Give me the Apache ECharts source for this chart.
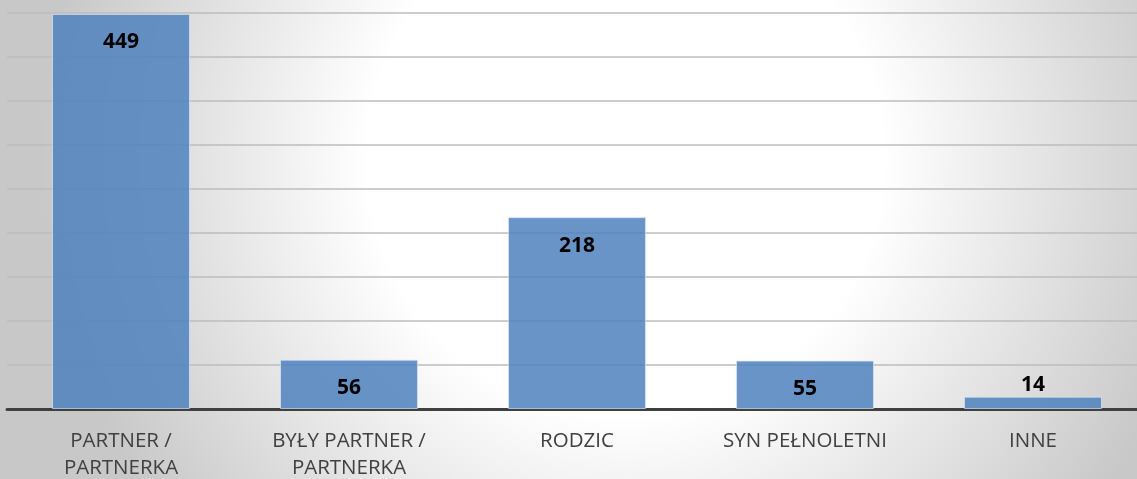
<!DOCTYPE html>
<html><head><meta charset="utf-8">
<script src="https://cdn.jsdelivr.net/npm/echarts@6/dist/echarts.min.js"></script>
<style>html,body{margin:0;padding:0;}#c{width:1137px;height:479px;}</style>
</head><body><div id="c"></div>
<script>
const categories = ['PARTNER /\nPARTNERKA', 'BYŁY PARTNER /\nPARTNERKA', 'RODZIC', 'SYN PEŁNOLETNI', 'INNE'];
const values = [449, 56, 218, 55, 14];
const yMin = 0, yMax = 450, yInterval = 50;

const chart = echarts.init(document.getElementById('c'));
chart.setOption({
  backgroundColor: {
    type: 'radial', x: 0.55, y: 0.33, r: 1.22,
    colorStops: [{offset: 0, color: '#ffffff'}, {offset: 0.44, color: '#ffffff'}, {offset: 1, color: '#c8c8c8'}]
  },
  animation: false,
  grid: {left: 7, right: -10, top: 13, bottom: 70, containLabel: false, outerBoundsMode: 'none'},
  xAxis: {
    type: 'category', data: categories,
    axisTick: {show: false},
    axisLine: {lineStyle: {color: '#404040', width: 3}},
    axisLabel: {color: '#404040', fontFamily: 'Open Sans', fontSize: 20.5, margin: 19, lineHeight: 27, interval: 0}
  },
  yAxis: {
    type: 'value', min: yMin, max: yMax, interval: yInterval,
    axisLabel: {show: false}, axisLine: {show: false}, axisTick: {show: false},
    splitLine: {lineStyle: {color: '#bcbcbc', width: 1.5}}
  },
  series: [{
    type: 'bar', barCategoryGap: '39.5%',
    data: values.map(v => v < 30 ? {value: v, label: {position: 'top', distance: 1}} : v),
    itemStyle: {color: 'rgba(79,129,189,0.85)', borderColor: 'rgba(220,230,245,0.7)', borderWidth: 1},
    label: {show: true, position: 'insideTop', distance: 18, color: '#000', fontWeight: 'bold', fontFamily: 'Open Sans', fontSize: 21}
  }]
});
</script></body></html>
